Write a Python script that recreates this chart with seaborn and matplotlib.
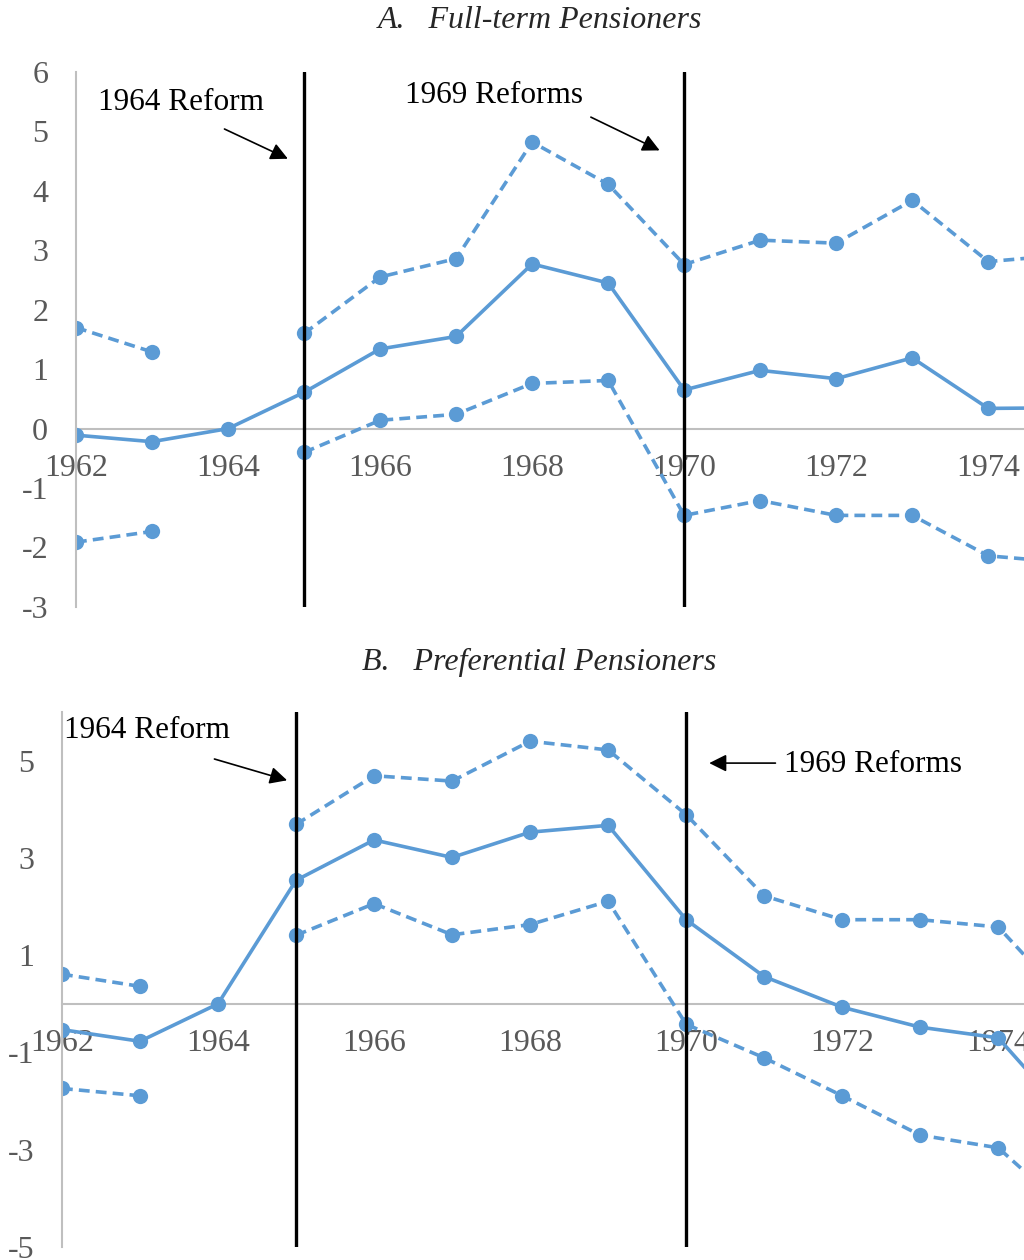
import numpy as np
import pandas as pd
import matplotlib
matplotlib.use("Agg")
import matplotlib.pyplot as plt
import seaborn as sns

# Data
years = [1962, 1963, 1964, 1965, 1966, 1967, 1968, 1969, 1970, 1971, 1972, 1973, 1974, 1975]

full_est = [-0.11, -0.22, 0.0, 0.61, 1.34, 1.55, 2.77, 2.45, 0.65, 0.98, 0.84, 1.19, 0.34, 0.35]
full_upper = [1.70, 1.29, np.nan, 1.60, 2.55, 2.86, 4.82, 4.11, 2.76, 3.17, 3.12, 3.84, 2.81, 2.92]
full_lower = [-1.91, -1.73, np.nan, -0.40, 0.14, 0.24, 0.76, 0.81, -1.46, -1.21, -1.46, -1.46, -2.14, -2.25]

pref_est = [-0.53, -0.77, 0.0, 2.54, 3.37, 3.01, 3.53, 3.67, 1.73, 0.56, -0.07, -0.48, -0.70, -2.50]
pref_upper = [0.61, 0.36, np.nan, 3.69, 4.69, 4.58, 5.40, 5.22, 3.89, 2.22, 1.73, 1.73, 1.58, -0.15]
pref_lower = [-1.74, -1.89, np.nan, 1.41, 2.06, 1.42, 1.63, 2.11, -0.42, -1.11, -1.89, -2.70, -2.96, -4.40]

reform_years = [1965, 1970]
x_ticks = [1962, 1964, 1966, 1968, 1970, 1972, 1974]

BLUE = "#5B9BD5"
GREY = "#BFBFBF"
TICK_COL = "#595959"

sns.set_theme(style="white")
plt.rcParams['font.family'] = ['Liberation Serif', 'DejaVu Serif']
plt.rcParams['axes.unicode_minus'] = False


def make_frame(est, upper, lower):
    df = pd.DataFrame({"year": years, "est": est, "upper": upper, "lower": lower})
    # segment id so CI lines break where values are missing
    df["seg"] = df["upper"].isna().cumsum()
    return df


def draw_panel(ax, df, xlim, ylim, yticks, notes):
    line_kw = dict(color=BLUE, marker="o", markersize=11, markeredgewidth=0,
                   linewidth=2.6, estimator=None, legend=False, ax=ax)
    sns.lineplot(data=df, x="year", y="est", **line_kw)
    ci = df.dropna()
    for col in ["upper", "lower"]:
        sns.lineplot(data=ci, x="year", y=col, units="seg", **line_kw)
        for ln in ax.lines[-len(ci["seg"].unique()):]:
            ln.set_dashes((3, 1.7))

    for yr in reform_years:
        ax.axvline(yr, color="black", linewidth=2.4, zorder=5)

    ax.set_xlim(*xlim)
    ax.set_ylim(*ylim)
    ax.set_xticks(x_ticks)
    ax.set_yticks(yticks)
    ax.set_xlabel("")
    ax.set_ylabel("")
    for s in ["top", "right"]:
        ax.spines[s].set_visible(False)
    ax.spines["left"].set_color(GREY)
    ax.spines["left"].set_linewidth(1.5)
    ax.spines["bottom"].set_position(("data", 0))
    ax.spines["bottom"].set_color(GREY)
    ax.spines["bottom"].set_linewidth(1.5)
    ax.spines["bottom"].set_zorder(0)
    ax.tick_params(axis="x", length=0, pad=18, labelsize=23, labelcolor=TICK_COL)
    ax.tick_params(axis="y", length=0, pad=20, labelsize=23, labelcolor=TICK_COL)
    ax.grid(False)

    for txt, tx, ty, a_from, a_to in notes:
        ax.text(tx, ty, txt, fontsize=22.5, color="black", va="center", ha="left")
        ax.annotate("", xy=a_to, xytext=a_from,
                    arrowprops=dict(arrowstyle="-|>", color="black", lw=1.2,
                                    mutation_scale=26))


fig = plt.figure(figsize=(10.24, 12.6), dpi=100)
ax_a = fig.add_axes([0.0742, 0.5183, 0.9258, 0.4246])
ax_b = fig.add_axes([0.0605, 0.0103, 0.9395, 0.4246])

draw_panel(ax_a, make_frame(full_est, full_upper, full_lower),
           (1962, 1974.47), (-3, 6), list(range(-3, 7)),
           [("1964 Reform", 1962.29, 5.48, (1963.92, 5.06), (1964.82, 4.52)),
            ("1969 Reforms", 1966.33, 5.61, (1968.74, 5.26), (1969.71, 4.66))])

draw_panel(ax_b, make_frame(pref_est, pref_upper, pref_lower),
           (1962, 1974.33), (-5, 6), [-5, -3, -1, 1, 3, 5],
           [("1964 Reform", 1962.03, 5.63, (1963.92, 5.05), (1964.92, 4.58)),
            ("1969 Reforms", 1971.26, 4.93, (1971.18, 4.95), (1970.26, 4.95))])

fig.text(0.527, 0.984, "A.   Full-term Pensioners", ha="center", va="center",
         style="italic", fontsize=23)
fig.text(0.527, 0.474, "B.   Preferential Pensioners", ha="center", va="center",
         style="italic", fontsize=23)

fig.savefig("out.png", dpi=100)
